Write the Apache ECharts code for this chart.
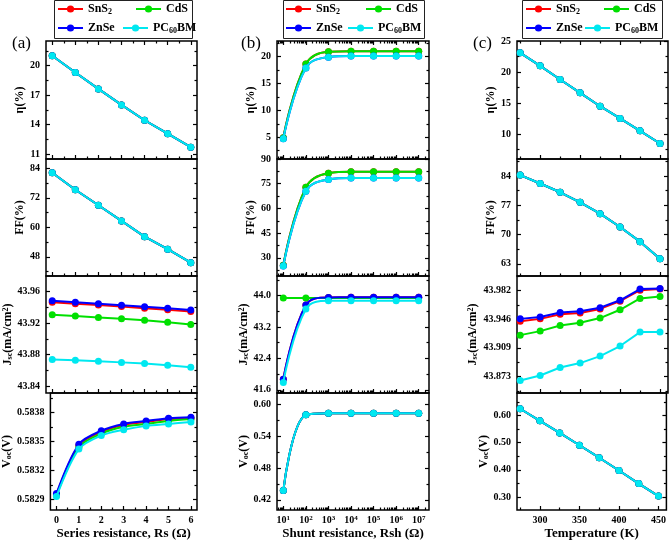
<!DOCTYPE html>
<html><head><meta charset="utf-8">
<script src="https://cdn.jsdelivr.net/npm/echarts@6/dist/echarts.min.js"></script>
<style>html,body{margin:0;padding:0;background:#fff}#c{width:669px;height:541px}</style>
</head><body><div id="c"></div>
<script>
// ---------- data ----------
var materials = ['SnS2', 'CdS', 'ZnSe', 'PC60BM'];
var colors = ['#FF0000', '#00E000', '#0000FF', '#00E8F0'];

var rsValues = [0, 1, 2, 3, 4, 5, 6];
var rshValues = [1e1, 1e2, 1e3, 1e4, 1e5, 1e6, 1e7];
var tempValues = [275, 300, 325, 350, 375, 400, 425, 450];

// (a) series resistance
var etaRs = [21.0, 19.3, 17.63, 16.0, 14.44, 13.08, 11.7];
var ffRs = [82.2, 75.3, 69.0, 62.6, 56.2, 51.1, 45.6];
var jscRsSnS2 = [43.9466, 43.9448, 43.9430, 43.9410, 43.9390, 43.9370, 43.9347];
var jscRsCdS = [43.9307, 43.9290, 43.9272, 43.9255, 43.9238, 43.9212, 43.9183];
var jscRsZnSe = [43.9485, 43.9466, 43.9447, 43.9428, 43.9408, 43.9388, 43.9367];
var jscRsPCBM = [43.8736, 43.8728, 43.8715, 43.8700, 43.8685, 43.8662, 43.8637];
var vocRsSnS2 = [0.58295, 0.58346, 0.58360, 0.58367, 0.58370, 0.58373, 0.58374];
var vocRsCdS = [0.58294, 0.58344, 0.58358, 0.58365, 0.58368, 0.58371, 0.58373];
var vocRsZnSe = [0.58296, 0.58347, 0.58361, 0.58368, 0.58371, 0.58374, 0.58375];
var vocRsPCBM = [0.58293, 0.58342, 0.58356, 0.58362, 0.58366, 0.58368, 0.58370];

// (b) shunt resistance
var etaRshSnS2 = [4.9, 18.6, 20.9, 21.0, 21.0, 21.0, 21.0];
var etaRshCdS = [4.9, 18.6, 20.9, 21.0, 21.0, 21.0, 21.0];
var etaRshZnSe = [4.7, 17.9, 19.9, 20.1, 20.1, 20.1, 20.1];
var etaRshPCBM = [4.7, 17.9, 19.9, 20.1, 20.1, 20.1, 20.1];
var ffRshSnS2 = [25.5, 72.8, 81.4, 82.2, 82.2, 82.2, 82.2];
var ffRshCdS = [25.5, 72.8, 81.4, 82.2, 82.2, 82.2, 82.2];
var ffRshZnSe = [25.0, 70.4, 77.6, 78.4, 78.4, 78.4, 78.4];
var ffRshPCBM = [25.0, 70.4, 77.6, 78.4, 78.4, 78.4, 78.4];
var jscRshSnS2 = [41.87, 43.76, 43.955, 43.957, 43.957, 43.957, 43.957];
var jscRshCdS = [43.94, 43.94, 43.94, 43.94, 43.94, 43.94, 43.94];
var jscRshZnSe = [41.87, 43.76, 43.955, 43.957, 43.957, 43.957, 43.957];
var jscRshPCBM = [41.79, 43.66, 43.87, 43.87, 43.87, 43.87, 43.87];
var vocRsh = [0.4375, 0.580, 0.5831, 0.5831, 0.5831, 0.5831, 0.5831];

// (c) temperature
var etaT = [23.1, 21.0, 18.8, 16.66, 14.5, 12.53, 10.54, 8.5];
var ffT = [84.2, 82.2, 80.1, 77.7, 75.0, 71.8, 68.3, 64.2];
var jscTSnS2 = [43.9435, 43.9464, 43.9524, 43.9540, 43.9591, 43.9690, 43.9830, 43.9843];
var jscTCdS = [43.9257, 43.9308, 43.9380, 43.9414, 43.9474, 43.9580, 43.9724, 43.9750];
var jscTZnSe = [43.9464, 43.9489, 43.9544, 43.9561, 43.9607, 43.9701, 43.9843, 43.9850];
var jscTPCBM = [43.8680, 43.8743, 43.8845, 43.8901, 43.8990, 43.9118, 43.9296, 43.9296];
var vocT = [0.625, 0.5805, 0.536, 0.4906, 0.4446, 0.3975, 0.3494, 0.3034];

// tick labels
var rsTicks = [0, 1, 2, 3, 4, 5, 6];
var rshTicks = [1e1, 1e2, 1e3, 1e4, 1e5, 1e6, 1e7];
var tempTicks = [300, 350, 400, 450];
var etaRsTicks = [11, 14, 17, 20];
var ffRsTicks = [48, 60, 72, 84];
var jscRsTicks = [43.84, 43.88, 43.92, 43.96];
var vocRsTicks = [0.5829, 0.5832, 0.5835, 0.5838];
var etaRshTicks = [5, 10, 15, 20];
var ffRshTicks = [30, 45, 60, 75, 90];
var jscRshTicks = [41.6, 42.4, 43.2, 44.0];
var jscRshLabels = ['41.6', '42.4', '43.2', '44.0'];
var vocRshTicks = [0.42, 0.48, 0.54, 0.60];
var vocRshLabels = ['0.42', '0.48', '0.54', '0.60'];
var etaTTicks = [10, 15, 20, 25];
var ffTTicks = [63, 70, 77, 84];
var jscTTicks = [43.873, 43.9095, 43.946, 43.9825];
var jscTLabels = ['43.873', '43.909', '43.946', '43.982'];
var vocTTicks = [0.30, 0.40, 0.50, 0.60];
var vocTLabels = ['0.30', '0.40', '0.50', '0.60'];

// ---------- layout / style ----------
var FONT = '"Liberation Serif", "Times New Roman", serif';
var colLeft = [46, 277, 517], colWidth = [151, 152, 151];
var rowTop = [41, 159, 276, 393], rowH = [118, 117, 117, 118];

function midpoints(t, lo, hi) {
  var out = [], step = t[1] - t[0];
  var ext = [t[0] - step].concat(t).concat([t[t.length - 1] + step]);
  for (var i = 0; i < ext.length - 1; i++) {
    var m = (ext[i] + ext[i + 1]) / 2;
    if (m > lo && m < hi) out.push(m);
  }
  return out;
}
function logMinor(lo, hi) {
  var out = [];
  for (var e = 0; e <= 7; e++) for (var k = 2; k <= 9; k++) {
    var v = k * Math.pow(10, e);
    if (v > lo && v < hi) out.push(v);
  }
  return out;
}

var xCfg = [
  { type: 'value', min: -0.27, max: 6.27, major: rsTicks, minor: midpoints(rsTicks, -0.27, 6.27),
    name: 'Series resistance, Rs (Ω)', fmt: function (v) { return String(v); } },
  { type: 'log', min: 5.25, max: 2.86e7, major: rshTicks, minor: logMinor(5.25, 2.86e7),
    name: 'Shunt resistance, Rsh (Ω)', fmt: function (v) { return '{b|10}{p|' + Math.round(Math.log10(v)) + '}'; } },
  { type: 'value', min: 271, max: 460, major: tempTicks, minor: [275, 325, 375, 425],
    name: 'Temperature (K)', fmt: function (v) { return String(v); } }
];

var NAME_ETA = 'η(%)', NAME_FF = 'FF(%)', NAME_JSC = 'J{sub|sc}(mA/cm{sup|2})', NAME_VOC = 'V{sub|oc}(V)';

var panels = [
  { col: 0, row: 0, name: NAME_ETA, gap: 20, min: 10.5, max: 22.5, ticks: etaRsTicks, data: [etaRs, etaRs, etaRs, etaRs] },
  { col: 0, row: 1, name: NAME_FF, gap: 18, min: 40.2, max: 87.8, ticks: ffRsTicks, data: [ffRs, ffRs, ffRs, ffRs] },
  { col: 0, row: 2, name: NAME_JSC, gap: 29, min: 43.831, max: 43.98, ticks: jscRsTicks, data: [jscRsSnS2, jscRsCdS, jscRsZnSe, jscRsPCBM] },
  { col: 0, row: 3, name: NAME_VOC, gap: 36, min: 0.58279, max: 0.5840, ticks: vocRsTicks, data: [vocRsSnS2, vocRsCdS, vocRsZnSe, vocRsPCBM], smooth: 0.3 },
  { col: 1, row: 0, name: NAME_ETA, gap: 20, min: 0.95, max: 22.9, ticks: etaRshTicks, data: [etaRshSnS2, etaRshCdS, etaRshZnSe, etaRshPCBM], smooth: 0.4 },
  { col: 1, row: 1, name: NAME_FF, gap: 20, min: 19, max: 90, ticks: ffRshTicks, data: [ffRshSnS2, ffRshCdS, ffRshZnSe, ffRshPCBM], smooth: 0.4 },
  { col: 1, row: 2, name: NAME_JSC, gap: 20, min: 41.52, max: 44.5, ticks: jscRshTicks, labels: jscRshLabels, data: [jscRshSnS2, jscRshCdS, jscRshZnSe, jscRshPCBM], smooth: 0.4 },
  { col: 1, row: 3, name: NAME_VOC, gap: 22, min: 0.401, max: 0.621, ticks: vocRshTicks, labels: vocRshLabels, data: [vocRsh, vocRsh, vocRsh, vocRsh], smooth: 0.4 },
  { col: 2, row: 0, name: NAME_ETA, gap: 20, min: 6, max: 25, ticks: etaTTicks, data: [etaT, etaT, etaT, etaT] },
  { col: 2, row: 1, name: NAME_FF, gap: 20, min: 60.1, max: 88.05, ticks: ffTTicks, data: [ffT, ffT, ffT, ffT] },
  { col: 2, row: 2, name: NAME_JSC, gap: 38, min: 43.852, max: 44.001, ticks: jscTTicks, labels: jscTLabels, data: [jscTSnS2, jscTCdS, jscTZnSe, jscTPCBM] },
  { col: 2, row: 3, name: NAME_VOC, gap: 27, min: 0.252, max: 0.683, ticks: vocTTicks, labels: vocTLabels, data: [vocT, vocT, vocT, vocT] }
];
var xData = [rsValues, rshValues, tempValues];

var grids = [], xAxes = [], yAxes = [], series = [];
var tickLine = { color: '#000', width: 1.2 };
var labelBase = { color: '#000', fontFamily: FONT, fontWeight: 'bold', fontSize: 10 };
var nameStyle = {
  color: '#000', fontFamily: FONT, fontWeight: 'bold', fontSize: 12,
  rich: {
    sub: { fontFamily: FONT, fontWeight: 'bold', fontSize: 8, verticalAlign: 'bottom', color: '#000' },
    sup: { fontFamily: FONT, fontWeight: 'bold', fontSize: 8, verticalAlign: 'top', color: '#000' }
  }
};

panels.forEach(function (p) {
  var gi = grids.length;
  grids.push({ left: colLeft[p.col], top: rowTop[p.row], width: colWidth[p.col], height: rowH[p.row],
    show: true, borderColor: '#000', borderWidth: 1.5, backgroundColor: 'transparent' });
  var xc = xCfg[p.col];
  var isBottom = p.row === 3;
  function xBase(pos) {
    return { gridIndex: gi, type: xc.type, logBase: 10, min: xc.min, max: xc.max, position: pos,
      axisLine: { show: false, onZero: false }, splitLine: { show: false }, minorTick: { show: false } };
  }
  var xi = xAxes.length;
  var xMain = xBase('bottom');
  xMain.axisTick = { show: true, inside: true, length: 4, lineStyle: tickLine, customValues: xc.major };
  xMain.axisLabel = Object.assign({ show: isBottom, customValues: xc.major, formatter: xc.fmt, margin: 5,
    rich: { b: { fontFamily: FONT, fontWeight: 'bold', fontSize: 10, color: '#000' },
            p: { fontFamily: FONT, fontWeight: 'bold', fontSize: 7, color: '#000', verticalAlign: 'top' } } }, labelBase);
  if (isBottom) {
    xMain.name = xc.name; xMain.nameLocation = 'middle'; xMain.nameGap = 17;
    xMain.nameTextStyle = { color: '#000', fontFamily: FONT, fontWeight: 'bold', fontSize: 13 };
  }
  xAxes.push(xMain);
  var xMin = xBase('bottom');
  xMin.axisTick = { show: true, inside: true, length: 2.5, lineStyle: tickLine, customValues: xc.minor };
  xMin.axisLabel = { show: false };
  xAxes.push(xMin);
  if (p.row === 0) {
    var xt = xBase('top');
    xt.axisTick = { show: true, inside: true, length: 4, lineStyle: tickLine, customValues: xc.major };
    xt.axisLabel = { show: false };
    xAxes.push(xt);
    var xt2 = xBase('top');
    xt2.axisTick = { show: true, inside: true, length: 2.5, lineStyle: tickLine, customValues: xc.minor };
    xt2.axisLabel = { show: false };
    xAxes.push(xt2);
  }
  var minorY = midpoints(p.ticks, p.min, p.max);
  function yBase(pos) {
    return { gridIndex: gi, type: 'value', min: p.min, max: p.max, position: pos,
      axisLine: { show: false, onZero: false }, splitLine: { show: false }, minorTick: { show: false } };
  }
  var yi = yAxes.length;
  var yMain = yBase('left');
  yMain.axisTick = { show: true, inside: true, length: 4, lineStyle: tickLine, customValues: p.ticks };
  yMain.axisLabel = Object.assign({ show: true, customValues: p.ticks, margin: 6,
    formatter: function (v) {
      if (!p.labels) return String(+v.toFixed(6));
      var best = 0;
      for (var i = 0; i < p.ticks.length; i++) if (Math.abs(p.ticks[i] - v) < Math.abs(p.ticks[best] - v)) best = i;
      return p.labels[best];
    } }, labelBase);
  yMain.name = p.name; yMain.nameLocation = 'middle'; yMain.nameGap = p.gap; yMain.nameRotate = 90;
  yMain.nameTextStyle = nameStyle;
  yAxes.push(yMain);
  var yMin = yBase('left');
  yMin.axisTick = { show: true, inside: true, length: 2.5, lineStyle: tickLine, customValues: minorY };
  yMin.axisLabel = { show: false };
  yAxes.push(yMin);
  var yR = yBase('right');
  yR.axisTick = { show: true, inside: true, length: 4, lineStyle: tickLine, customValues: p.ticks };
  yR.axisLabel = { show: false };
  yAxes.push(yR);
  var yR2 = yBase('right');
  yR2.axisTick = { show: true, inside: true, length: 2.5, lineStyle: tickLine, customValues: minorY };
  yR2.axisLabel = { show: false };
  yAxes.push(yR2);

  var xs = xData[p.col];
  materials.forEach(function (m, k) {
    series.push({
      name: m, type: 'line', xAxisIndex: xi, yAxisIndex: yi,
      data: xs.map(function (x, i) { return [x, p.data[k][i]]; }),
      symbol: 'circle', symbolSize: 7, smooth: p.smooth || false,
      lineStyle: { color: colors[k], width: 2 }, itemStyle: { color: colors[k] },
      z: 3 + k, animation: false
    });
  });
});

// legends
var legendLeft = [[57, 135, 57, 122], [285, 365, 285, 347], [525, 603, 525, 584]];
var legendTop = [2, 21];
var legendText = { 'SnS2': 'SnS{s|2}', 'CdS': 'CdS', 'ZnSe': 'ZnSe', 'PC60BM': 'PC{s|60}BM' };
var legends = [];
for (var c = 0; c < 3; c++) {
  materials.forEach(function (m, k) {
    legends.push({
      data: [m], left: legendLeft[c][k], top: legendTop[k < 2 ? 0 : 1], padding: 0,
      itemWidth: 25, itemHeight: 9, selectedMode: false,
      formatter: function (n) { return legendText[n]; },
      textStyle: { color: '#000', fontFamily: FONT, fontWeight: 'bold', fontSize: 12, lineHeight: 14,
        rich: { s: { color: '#000', fontFamily: FONT, fontWeight: 'bold', fontSize: 8, verticalAlign: 'bottom' } } }
    });
  });
}

var graphics = [
  { type: 'rect', shape: { x: 54.5, y: 0.5, width: 138, height: 38 }, style: { fill: 'none', stroke: '#222', lineWidth: 1 } },
  { type: 'rect', shape: { x: 283.5, y: 0.5, width: 141, height: 38 }, style: { fill: 'none', stroke: '#222', lineWidth: 1 } },
  { type: 'rect', shape: { x: 522.5, y: 0.5, width: 140, height: 38 }, style: { fill: 'none', stroke: '#222', lineWidth: 1 } },
  { type: 'text', left: 12, top: 35, style: { text: '(a)', font: '17px ' + FONT, fill: '#000' } },
  { type: 'text', left: 241, top: 35, style: { text: '(b)', font: '17px ' + FONT, fill: '#000' } },
  { type: 'text', left: 473, top: 35, style: { text: '(c)', font: '17px ' + FONT, fill: '#000' } }
];

var chart = echarts.init(document.getElementById('c'), null, { renderer: 'canvas' });
chart.setOption({
  animation: false,
  backgroundColor: '#fff',
  legend: legends,
  grid: grids,
  xAxis: xAxes,
  yAxis: yAxes,
  series: series,
  graphic: graphics
});
</script>
</body></html>
